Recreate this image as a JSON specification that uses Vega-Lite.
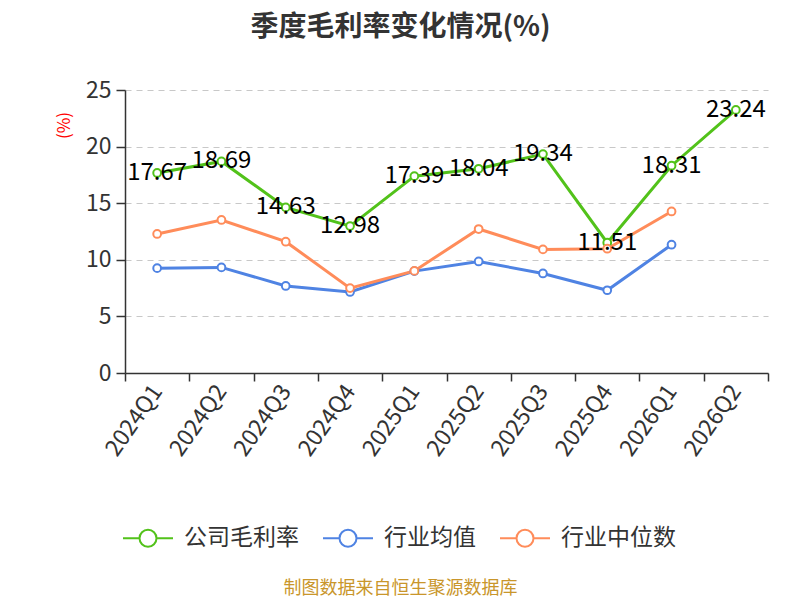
{
  "$schema": "https://vega.github.io/schema/vega-lite/v6.json",
  "autosize": "none",
  "width": 643,
  "height": 283,
  "padding": {"left": 125, "top": 90, "right": 32, "bottom": 227},
  "background": "white",
  "config": {
    "font": "Noto Sans CJK SC",
    "view": {"stroke": null}
  },
  "title": {
    "text": "季度毛利率变化情况(%)",
    "fontSize": 28,
    "fontWeight": "bold",
    "color": "#333333",
    "anchor": "middle",
    "frame": "group",
    "dx": -46,
    "offset": 37
  },
  "data": {
    "values": [
      {"q": "2024Q1", "s": "公司毛利率", "v": 17.67},
      {"q": "2024Q2", "s": "公司毛利率", "v": 18.69},
      {"q": "2024Q3", "s": "公司毛利率", "v": 14.63},
      {"q": "2024Q4", "s": "公司毛利率", "v": 12.98},
      {"q": "2025Q1", "s": "公司毛利率", "v": 17.39},
      {"q": "2025Q2", "s": "公司毛利率", "v": 18.04},
      {"q": "2025Q3", "s": "公司毛利率", "v": 19.34},
      {"q": "2025Q4", "s": "公司毛利率", "v": 11.51},
      {"q": "2026Q1", "s": "公司毛利率", "v": 18.31},
      {"q": "2026Q2", "s": "公司毛利率", "v": 23.24},
      {"q": "2024Q1", "s": "行业均值", "v": 9.26},
      {"q": "2024Q2", "s": "行业均值", "v": 9.33},
      {"q": "2024Q3", "s": "行业均值", "v": 7.69},
      {"q": "2024Q4", "s": "行业均值", "v": 7.16},
      {"q": "2025Q1", "s": "行业均值", "v": 9.0},
      {"q": "2025Q2", "s": "行业均值", "v": 9.85},
      {"q": "2025Q3", "s": "行业均值", "v": 8.79},
      {"q": "2025Q4", "s": "行业均值", "v": 7.31},
      {"q": "2026Q1", "s": "行业均值", "v": 11.33},
      {"q": "2024Q1", "s": "行业中位数", "v": 12.28},
      {"q": "2024Q2", "s": "行业中位数", "v": 13.52},
      {"q": "2024Q3", "s": "行业中位数", "v": 11.6},
      {"q": "2024Q4", "s": "行业中位数", "v": 7.5},
      {"q": "2025Q1", "s": "行业中位数", "v": 9.02},
      {"q": "2025Q2", "s": "行业中位数", "v": 12.72},
      {"q": "2025Q3", "s": "行业中位数", "v": 10.92},
      {"q": "2025Q4", "s": "行业中位数", "v": 10.98},
      {"q": "2026Q1", "s": "行业中位数", "v": 14.27}
    ]
  },
  "encoding": {
    "x": {
      "field": "q",
      "type": "ordinal",
      "scale": {"type": "band", "paddingInner": 0, "paddingOuter": 0},
      "axis": {
        "title": "制图数据来自恒生聚源数据库",
        "titleColor": "#C9962B",
        "titleFontSize": 18,
        "titleFontWeight": "normal",
        "titleX": 275,
        "titleY": 215,
        "titleAnchor": null,
        "titleAlign": "center",
        "titleBaseline": "middle",
        "domainColor": "#333333",
        "domainWidth": 1.5,
        "tickColor": "#333333",
        "tickSize": 8,
        "tickWidth": 1.5,
        "tickBand": "extent",
        "labelAngle": -55,
        "labelAlign": "right",
        "labelBaseline": "middle",
        "labelFontSize": 23,
        "labelColor": "#333333",
        "labelPadding": 6,
        "grid": false
      }
    },
    "y": {
      "field": "v",
      "type": "quantitative",
      "scale": {"domain": [0, 25]},
      "axis": {
        "title": "(%)",
        "titleColor": "#FF0000",
        "titleFontSize": 17,
        "titleFontWeight": "normal",
        "titleX": -61,
        "titleY": 35,
        "titleAngle": -90,
        "titleAlign": "center",
        "titleBaseline": "middle",
        "values": [0, 5, 10, 15, 20, 25],
        "domainColor": "#333333",
        "domainWidth": 1.5,
        "tickColor": "#333333",
        "tickSize": 9,
        "tickWidth": 1.5,
        "labelFontSize": 23,
        "labelColor": "#333333",
        "labelPadding": 5,
        "grid": true,
        "gridColor": "#C8C8C8",
        "gridDash": [6, 5],
        "gridWidth": 1.2
      }
    },
    "color": {
      "field": "s",
      "type": "nominal",
      "scale": {
        "domain": ["公司毛利率", "行业均值", "行业中位数"],
        "range": ["#52C21A", "#4F83E3", "#FF8C5A"]
      },
      "legend": {
        "title": null,
        "orient": "none",
        "direction": "horizontal",
        "legendX": -3,
        "legendY": 422,
        "symbolType": "M-1,0L-0.34,0M-0.34,0A0.34,0.34 0 1,1 0.34,0A0.34,0.34 0 1,1 -0.34,0M0.34,0L1,0",
        "symbolSize": 2500,
        "symbolStrokeWidth": 2,
        "symbolFillColor": "white",
        "symbolOpacity": 1,
        "labelFontSize": 23,
        "labelColor": "#333333",
        "labelOffset": 10,
        "columnPadding": 20
      }
    }
  },
  "layer": [
    {
      "mark": {"type": "line", "strokeWidth": 3}
    },
    {
      "mark": {"type": "point", "shape": "circle", "filled": false, "fill": "white", "fillOpacity": 1, "opacity": 1, "size": 60, "strokeWidth": 2}
    },
    {
      "transform": [{"filter": "datum.s === '公司毛利率'"}],
      "mark": {"type": "text", "fontSize": 24, "align": "center", "baseline": "middle"},
      "encoding": {
        "text": {"field": "v", "type": "quantitative", "format": ".2f"},
        "color": {"value": "#000000"}
      }
    }
  ]
}
